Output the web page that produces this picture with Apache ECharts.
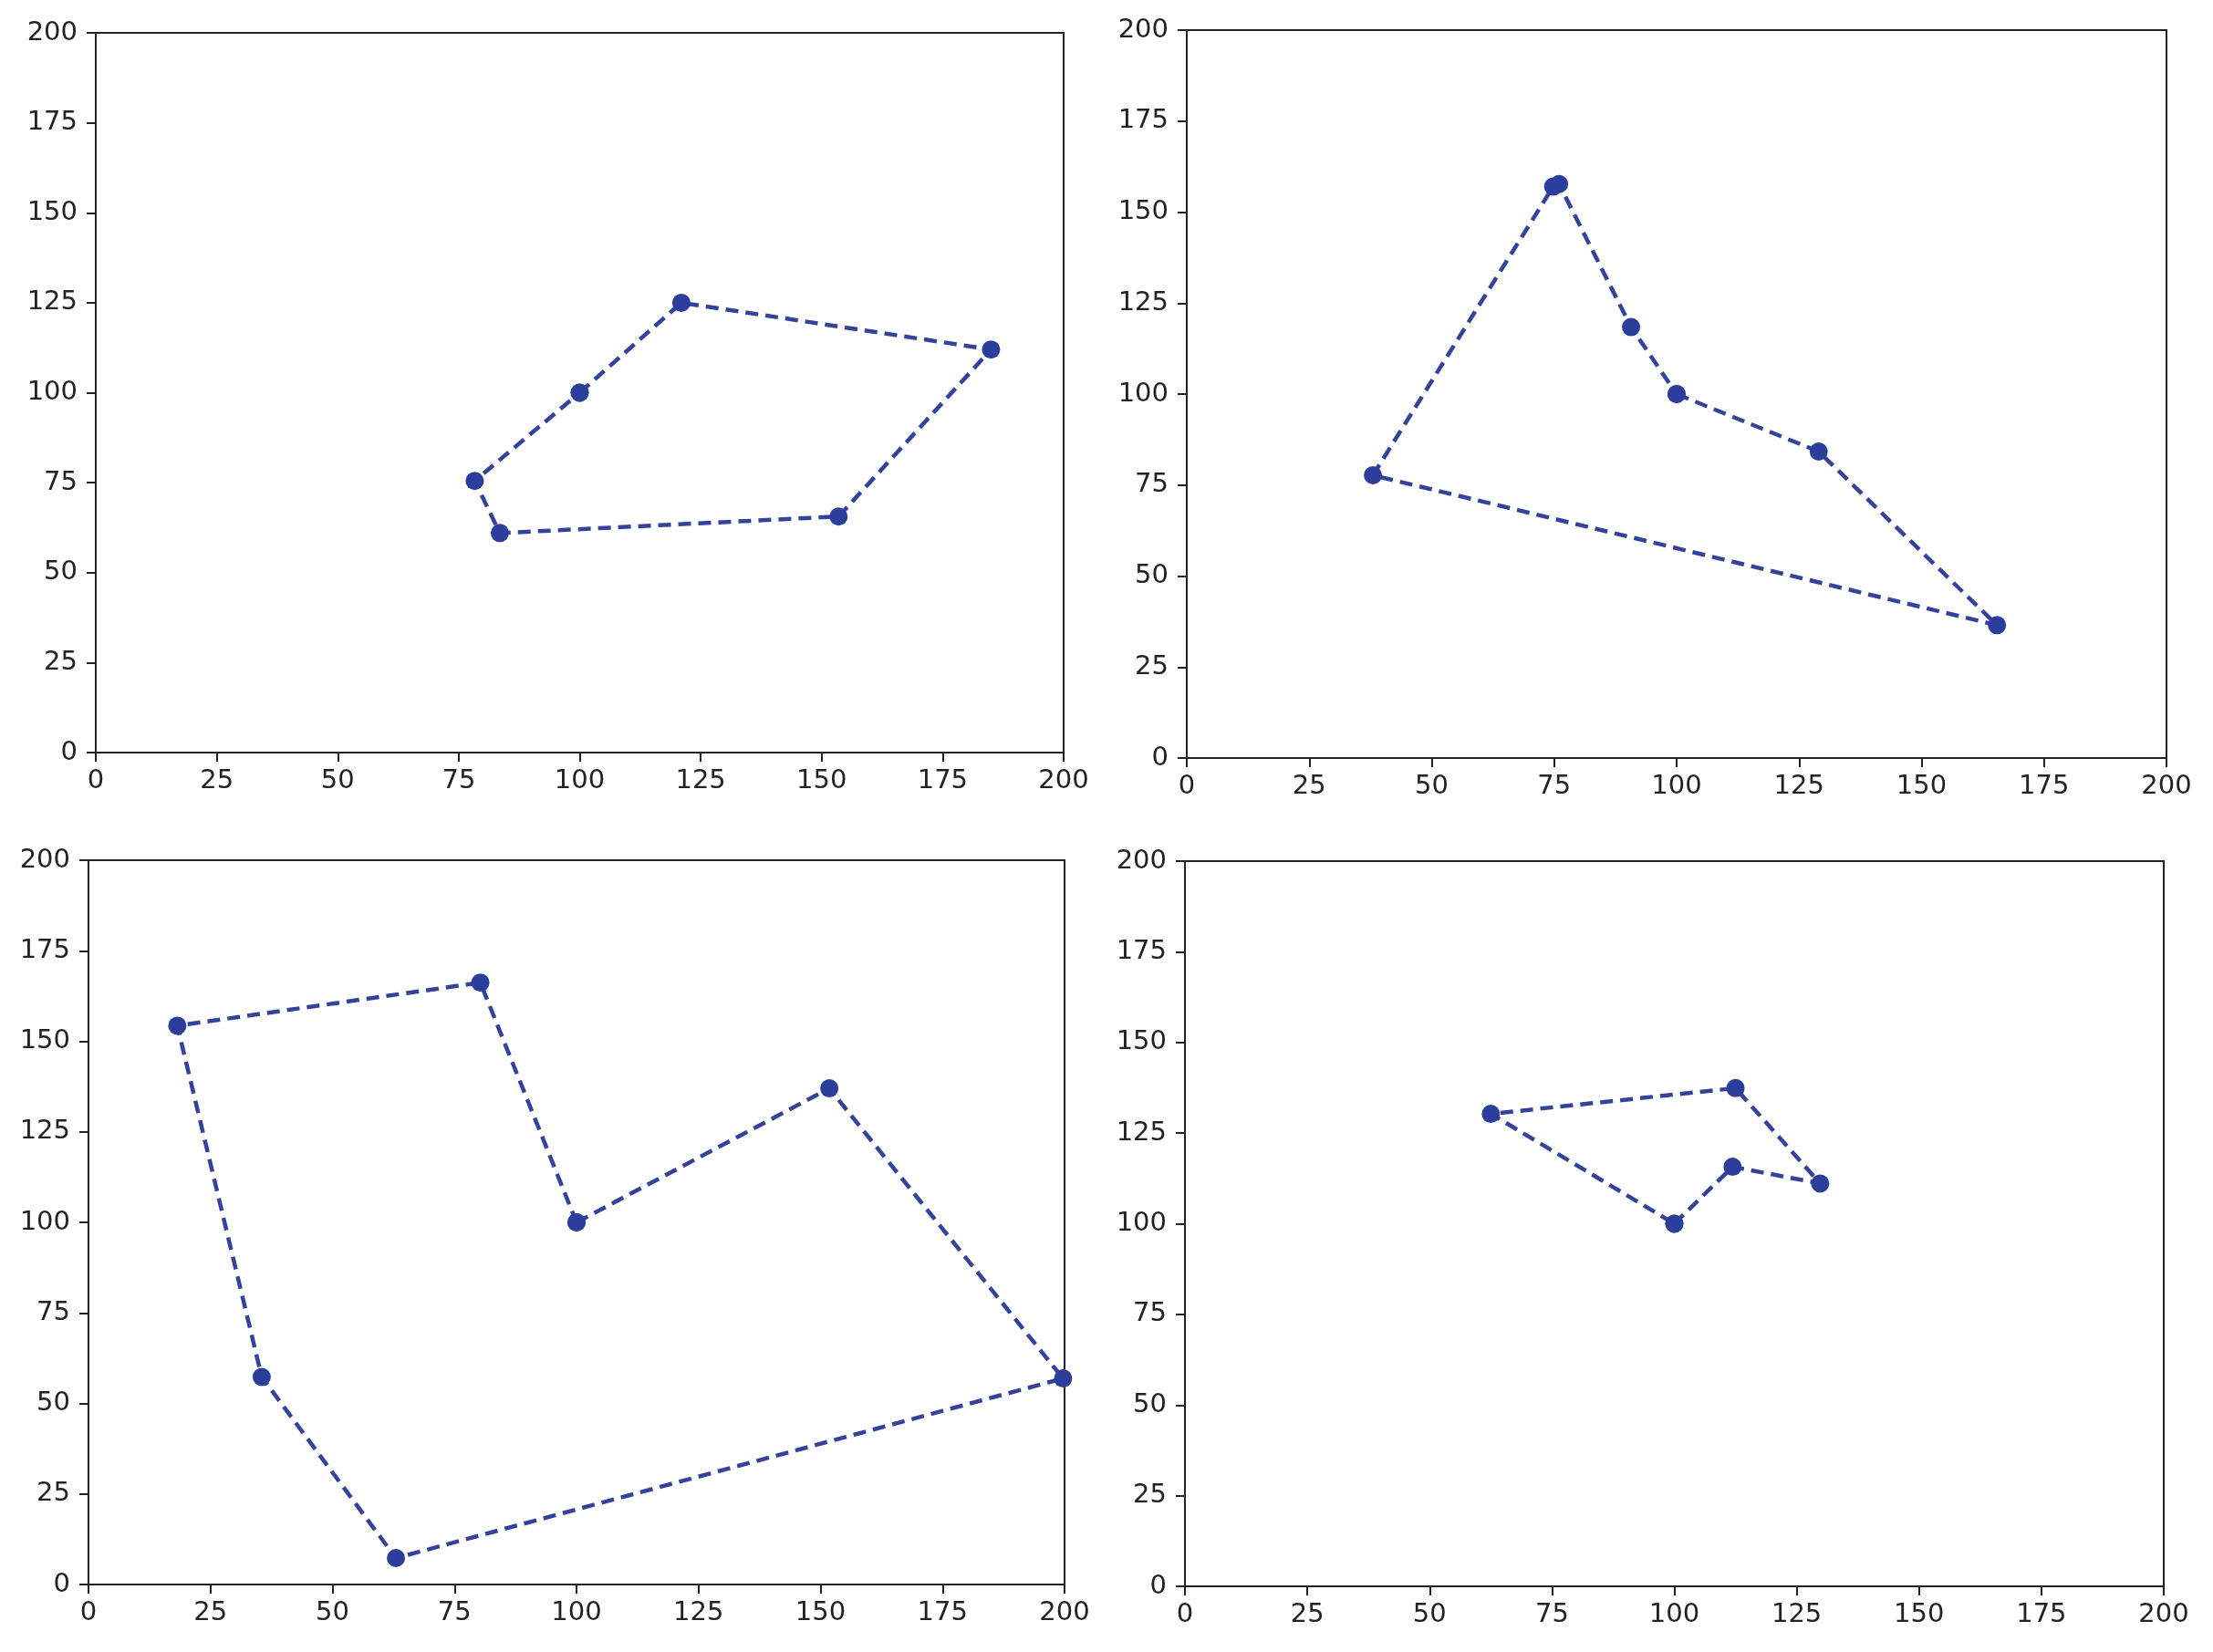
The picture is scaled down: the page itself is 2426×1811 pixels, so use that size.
<!DOCTYPE html>
<html>
<head>
<meta charset="utf-8">
<script src="https://cdn.jsdelivr.net/npm/echarts@6/dist/echarts.min.js"></script>
<style>
html,body{margin:0;padding:0;background:#fff;}
#chart{width:2426px;height:1811px;}
</style>
</head>
<body>
<div id="chart"></div>
<script>
// Polygon vertices for each panel, [x, y], closed back to the start
const panelTopLeft = [[100,100],[121,125],[185,112],[153.5,65.6],[83.5,61],[78.3,75.5],[100,100]];
const panelTopRight = [[100,100],[129,84.2],[165.4,36.5],[38,77.7],[74.8,157],[76,157.7],[90.7,118.4],[100,100]];
const panelBottomLeft = [[100,100],[151.8,137],[199.7,56.9],[63,7.3],[35.5,57.3],[18.2,154.3],[80.3,166.2],[100,100]];
const panelBottomRight = [[100,100],[111.9,115.7],[129.8,111.1],[112.5,137.4],[62.5,130.3],[100,100]];
const panels = [panelTopLeft, panelTopRight, panelBottomLeft, panelBottomRight];

const axisMin = 0, axisMax = 200, axisStep = 25;

const grids = [
  {left:105, top:36, width:1061, height:789},
  {left:1301, top:33, width:1074, height:798},
  {left:97, top:943, width:1070, height:794},
  {left:1299, top:944, width:1073, height:795}
];

const lineColor = '#34429c';
const markerColor = '#2c3e9c';
const textColor = '#222';
const fontFamily = 'DejaVu Sans';

function makeAxis(kind, i){
  return {
    type:'value', gridIndex:i, min:axisMin, max:axisMax, interval:axisStep,
    splitLine:{show:false},
    axisLine:{show:true, onZero:false, lineStyle:{color:'#222', width:2}},
    axisTick:{show:true, length:10, inside:false, lineStyle:{color:'#222', width:2}},
    axisLabel:{show:true, color:textColor, fontSize:29, fontFamily:fontFamily,
      margin: kind==='x' ? 17 : 20}
  };
}

const option = {
  backgroundColor:'#fff',
  animation:false,
  grid: grids.map(g => Object.assign({show:true, borderColor:'#222', borderWidth:2, backgroundColor:'transparent', containLabel:false}, g)),
  xAxis: panels.map((p,i)=>makeAxis('x',i)),
  yAxis: panels.map((p,i)=>makeAxis('y',i)),
  series: panels.map((p,i)=>({
    type:'line', xAxisIndex:i, yAxisIndex:i,
    data:p,
    clip:false,
    symbol:'circle', symbolSize:20, showSymbol:true,
    itemStyle:{color:markerColor},
    lineStyle:{color:lineColor, width:4.5, type:[14,8]}
  }))
};

const chart = echarts.init(document.getElementById('chart'), null, {renderer:'canvas'});
chart.setOption(option);
</script>
</body>
</html>
